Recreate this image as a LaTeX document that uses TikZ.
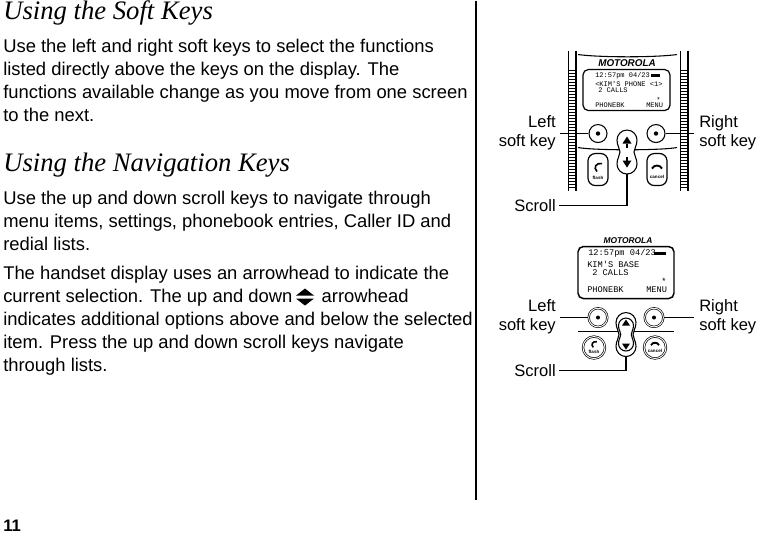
\documentclass[tikz,border=0pt]{standalone}
\usepackage{fontspec}
\setmainfont{Liberation Sans}
\newfontfamily\headfont{Liberation Serif}
\newfontfamily\lcdfont{Liberation Mono}
\begin{document}
\begin{tikzpicture}[x=0.75pt,y=-0.75pt]

  \tikzset{bodytext/.style={anchor=north west, inner sep=0pt, align=left, font=\fontsize{13.8}{17.25}\selectfont},
    headtext/.style={anchor=west, inner sep=0pt, font=\headfont\itshape\fontsize{20}{22}\selectfont},
    calltext/.style={inner sep=0pt, font=\fontsize{12.4}{14.6}\selectfont},
    leader/.style={draw, line width=.8pt},
    softkey/.style={draw, circle, inner sep=0pt, minimum size=13.5pt, line width=.8pt, fill=white},
    softkeyb/.style={draw, circle, double, double distance=.7pt, inner sep=0pt, minimum size=14pt, line width=.5pt, fill=white},
    callkey/.style={draw, rounded corners=5.5pt, inner sep=0pt, minimum width=15pt, minimum height=24pt, line width=.9pt, fill=white},
    callkeyb/.style={draw, circle, double, double distance=.7pt, inner sep=0pt, minimum size=16.5pt, line width=.5pt, fill=white},
    tinytext/.style={inner sep=0pt, font=\bfseries\fontsize{3.4}{4}\selectfont},
    lcdtext/.style={anchor=west, inner sep=0pt, font=\lcdfont\fontsize{5.25}{6}\selectfont},
    lcdtextb/.style={anchor=west, inner sep=0pt, font=\lcdfont\fontsize{6.5}{7}\selectfont},
    peanut/.pic={
      \draw[line width=.8pt, fill=white] (0,-22) .. controls (6,-22) and (10,-17) .. (10,-12) .. controls (10,-6) and (7,-4) .. (7,0)
        .. controls (7,4) and (10,6) .. (10,12) .. controls (10,17) and (6,22) .. (0,22)
        .. controls (-6,22) and (-10,17) .. (-10,12) .. controls (-10,6) and (-7,4) .. (-7,0)
        .. controls (-7,-4) and (-10,-6) .. (-10,-12) .. controls (-10,-17) and (-6,-22) .. (0,-22) -- cycle;
    },
    handset/.pic={
      \draw[line width=1.2pt] (4,-4) .. controls (-2,-5) and (-5,0) .. (-1,4);
    },
    handsetdown/.pic={
      \draw[line width=1.4pt] (-5,2) .. controls (-3,-2) and (3,-2) .. (5,2);
    }}

%% Left column
  \node[headtext] (softhead) at (3,12) {Using the Soft Keys};
  \node[bodytext] (softtext) at (3,38) {Use the left and right soft keys to select the functions\\
    listed directly above the keys on the display. The\\
    functions available change as you move from one screen\\
    to the next.};
  \node[headtext] (navhead) at (3,165) {Using the Navigation Keys};
  \node[bodytext] (navtext) at (3,190) {Use the up and down scroll keys to navigate through\\
    menu items, settings, phonebook entries, Caller ID and\\
    redial lists.};
  \node[bodytext] (displaytext) at (3,265) {The handset display uses an arrowhead to indicate the\\
    current selection. The up and down\hspace{22pt}arrowhead\\
    indicates additional options above and below the selected\\
    item. Press the up and down scroll keys navigate\\
    through lists.};
  \fill (305,288) -- (314,295) -- (296,295) -- cycle;
  \fill (305,305) -- (314,298) -- (296,298) -- cycle;
  \draw[line width=.8pt] (476,0) -- (476,499);
  \node[anchor=west, inner sep=0pt, font=\bfseries\fontsize{12.5}{14}\selectfont] (pagenum) at (3,525) {11};

%% Upper phone
  \foreach \stripx in {568,680}{
    \draw[line width=.5pt] (\stripx,50) -- (\stripx,190);
    \draw[line width=.8pt] (\stripx+8,50) -- (\stripx+8,190);
    \foreach \tick in {70,73,...,188}
      \draw[line width=.7pt] (\stripx,\tick) -- (\stripx+8,\tick);
  }
  \draw[line width=.8pt] (578,54) .. controls (600,57) and (655,57) .. (677,54);
  \draw[line width=.8pt] (578,147) .. controls (595,150) and (660,150) .. (677,147);
  \node[inner sep=0pt, font=\bfseries\itshape\fontsize{7.4}{8}\selectfont] (logoa) at (627,63) {MOTOROLA};
  \draw[line width=.9pt, rounded corners=4pt] (583,69) rectangle (670,110);
  \node[lcdtext] (timea) at (595,75) {12:57pm 04/23};
  \fill (651,73.5) rectangle (660,76.5);
  \node[lcdtext] (namea) at (595,83) {<KIM'S PHONE <1>};
  \node[lcdtext] (callsa) at (598,90) {2 CALLS};
  \node[lcdtext] (btsigna) at (656,99) {*};
  \node[lcdtext] (phonebka) at (595,105) {PHONEBK};
  \node[lcdtext] (menua) at (646,105) {MENU};

  \node[softkey] (leftkeya) at (598,133) {};
  \node[softkey] (rightkeya) at (656,133) {};
  \fill (leftkeya) circle (2.2);
  \fill (rightkeya) circle (2.2);
  \node[callkey] (flashkeya) at (598,169) {};
  \node[callkey] (cancelkeya) at (657,169) {};
  \pic at (598,167) {handset};
  \pic at (657,166) {handsetdown};
  \node[tinytext] (flasha) at (598,177) {flash};
  \node[tinytext] (cancela) at (657,176) {cancel};
  \pic at (627,151.5) {peanut};
  \fill (627,136) -- (631.5,143) -- (622.5,143) -- cycle;
  \fill (627,167) -- (631.5,160) -- (622.5,160) -- cycle;
  \draw[line width=1.2pt] (627,143) -- (627,147) (627,156) -- (627,160);
  \coordinate (scrollkeya) at (627,173.5);

  \node[calltext, anchor=east, align=right] (leftlabela) at (556,132) {Left\\soft key};
  \node[calltext, anchor=west, align=left] (rightlabela) at (699,132) {Right\\soft key};
  \node[calltext, anchor=east] (scrolllabela) at (556,205) {Scroll};
  \draw[leader] (leftkeya.west) -- ([xshift=3pt]leftkeya.west -| leftlabela.east);
  \draw[leader] (rightkeya.east) -- ([xshift=-3.5pt]rightkeya.east -| rightlabela.west);
  \draw[leader] (scrollkeya) |- ([xshift=2pt]scrolllabela.east);

%% Lower phone
  \node[inner sep=0pt, font=\bfseries\itshape\fontsize{6.3}{7}\selectfont] (logob) at (628,240) {MOTOROLA};
  \draw[line width=1.1pt, rounded corners=4pt] (578,246) rectangle (674,298);
  \node[lcdtextb] (timeb) at (588,253) {12:57pm 04/23};
  \fill (654,251.5) rectangle (666,254.5);
  \node[lcdtextb] (nameb) at (587,264) {KIM'S BASE};
  \node[lcdtextb] (callsb) at (592,272) {2 CALLS};
  \node[lcdtextb] (btsignb) at (661,281) {*};
  \node[lcdtextb] (phonebkb) at (587,289) {PHONEBK};
  \node[lcdtextb] (menub) at (646,289) {MENU};

  \draw[line width=.7pt] (578,331) -- (674,331);
  \node[softkeyb] (leftkeyb) at (598,317) {};
  \node[softkeyb] (rightkeyb) at (654,317) {};
  \fill (leftkeyb) circle (2);
  \fill (rightkeyb) circle (2);
  \node[callkeyb] (flashkeyb) at (594,347) {};
  \node[callkeyb] (cancelkeyb) at (655,347) {};
  \pic[scale=.7] at (594,344) {handset};
  \pic[scale=.8] at (655,343) {handsetdown};
  \node[tinytext] (flashb) at (594,351) {flash};
  \node[tinytext] (cancelb) at (655,350) {cancel};
  \pic at (626,334) {peanut};
  \pic[scale=.75] at (626,334) {peanut};
  \fill (626,319) -- (630,325) -- (622,325) -- cycle;
  \fill (626,349) -- (630,343) -- (622,343) -- cycle;
  \coordinate (scrollkeyb) at (626,356);

  \node[calltext, anchor=east, align=right] (leftlabelb) at (556,316) {Left\\soft key};
  \node[calltext, anchor=west, align=left] (rightlabelb) at (699,316) {Right\\soft key};
  \node[calltext, anchor=east] (scrolllabelb) at (556,370) {Scroll};
  \draw[leader, line width=1.2pt] (leftkeyb.west) -- ([xshift=3pt]leftkeyb.west -| leftlabelb.east);
  \draw[leader, line width=1.2pt] (rightkeyb.east) -- ([xshift=-3.5pt]rightkeyb.east -| rightlabelb.west);
  \draw[leader, line width=1pt] (scrollkeyb) |- ([xshift=2pt]scrolllabelb.east);

  \useasboundingbox (0,0) rectangle (757,533);
\end{tikzpicture}
\end{document}
